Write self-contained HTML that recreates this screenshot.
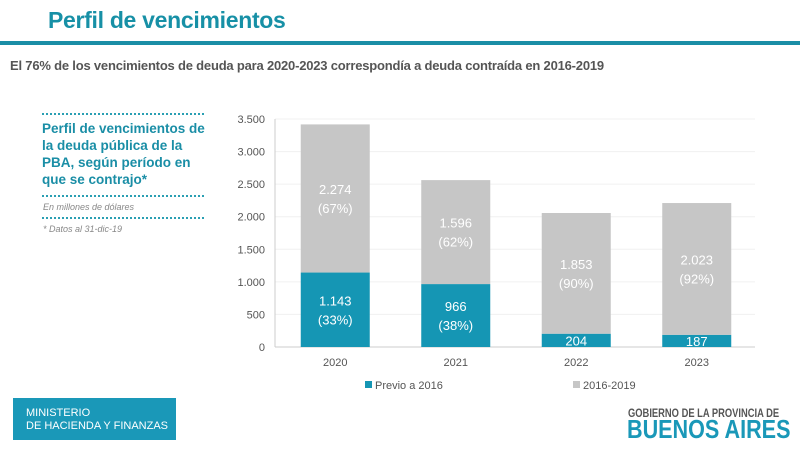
<!DOCTYPE html>
<html><head><meta charset="utf-8"><style>
body{margin:0;width:800px;height:450px;background:#fff;position:relative;overflow:hidden;font-family:"Liberation Sans",sans-serif}
.abs{position:absolute;white-space:nowrap}
</style></head><body>
<div class="abs" style="left:48px;top:7px;font-size:23px;font-weight:bold;color:#1790a6;letter-spacing:-0.3px">Perfil de vencimientos</div>
<div class="abs" style="left:0;top:41px;width:800px;height:4px;background:#1a8ea6"></div>
<div class="abs" style="left:10px;top:58px;font-size:13px;font-weight:bold;color:#555;letter-spacing:-0.2px">El 76% de los vencimientos de deuda para 2020-2023 correspondía a deuda contraída en 2016-2019</div>
<div class="abs" style="left:42px;top:113px;width:162px;border-top:2px dotted #2a9fb3"></div>
<div class="abs" style="left:42px;top:120px;width:170px;white-space:normal;font-size:13.5px;line-height:17px;font-weight:bold;color:#1a8ea6">Perfil de vencimientos de la deuda pública de la PBA, según período en que se contrajo*</div>
<div class="abs" style="left:42px;top:195px;width:162px;border-top:2px dotted #2a9fb3"></div>
<div class="abs" style="left:43px;top:202px;font-size:9px;font-style:italic;color:#888">En millones de dólares</div>
<div class="abs" style="left:42px;top:217px;width:162px;border-top:2px dotted #2a9fb3"></div>
<div class="abs" style="left:43px;top:224px;font-size:9px;font-style:italic;color:#888">* Datos al 31-dic-19</div>
<svg class="abs" style="left:0;top:0" width="800" height="450" id="chart"></svg>
<div class="abs" style="left:13px;top:398px;width:163px;height:42px;background:#1a98b8;color:#fff;font-size:11px;line-height:13px;padding:9px 0 0 13px;box-sizing:border-box">MINISTERIO<br>DE HACIENDA Y FINANZAS</div>
<div class="abs" style="left:628px;top:406px;font-size:12px;font-weight:bold;color:#555;transform:scaleX(0.78);transform-origin:left top">GOBIERNO DE LA PROVINCIA DE</div>
<div class="abs" style="left:627px;top:416px;font-size:26px;line-height:26px;font-weight:bold;color:#1a98b8;transform:scaleX(0.83);transform-origin:left top">BUENOS AIRES</div>
<script>
const categories=["2020","2021","2022","2023"];
const previo=[1143,966,204,187];
const nuevo=[2274,1596,1853,2023];
const previoLabels=["1.143\n(33%)","966\n(38%)","204","187"];
const nuevoLabels=["2.274\n(67%)","1.596\n(62%)","1.853\n(90%)","2.023\n(92%)"];
const ticks=[0,500,1000,1500,2000,2500,3000,3500];
const tickLabels=["0","500","1.000","1.500","2.000","2.500","3.000","3.500"];
const svg=document.getElementById('chart');const NS='http://www.w3.org/2000/svg';
const y0=347,yTop=119,x0=275,bw=120.5,barW=69;
const y=v=>y0-(v/3500)*(y0-yTop);
const xc=i=>x0+bw*i+bw/2;
function el(t,a){const e=document.createElementNS(NS,t);for(const k in a)e.setAttribute(k,a[k]);svg.appendChild(e);return e;}
ticks.forEach((t,i)=>{
 const g=el('line',{x1:x0,x2:755,y1:y(t),y2:y(t),stroke:'#f0f0f0'});
 
 const l=el('text',{x:265,y:y(t)+4,'text-anchor':'end','font-size':11,fill:'#555','font-family':'Liberation Sans'});
 l.textContent=tickLabels[i];
 
});
const ax=el('line',{x1:x0,x2:x0,y1:yTop,y2:y0,stroke:'#ccc'});

const bx=el('line',{x1:x0,x2:755,y1:y0,y2:y0,stroke:'#ccc'});

function lbl(txt,cx,cy,name){
 const lines=txt.split('\n');
 lines.forEach((s,j)=>{const t=el('text',{x:cx,y:cy+(j-(lines.length-1)/2)*19+5,'text-anchor':'middle','font-size':13,fill:'#fff','font-family':'Liberation Sans'});t.textContent=s;
 });
}
categories.forEach((c,i)=>{
 const cx=xc(i);
 const r1=el('rect',{x:cx-barW/2,y:y(previo[i]),width:barW,height:y0-y(previo[i]),fill:'#1596b4'});
 
 const top=previo[i]+nuevo[i];
 const r2=el('rect',{x:cx-barW/2,y:y(top),width:barW,height:y(previo[i])-y(top),fill:'#c6c6c6'});
 
 lbl(previoLabels[i],cx,(y(previo[i])+y0)/2,'value-label-previo');
 lbl(nuevoLabels[i],cx,(y(top)+y(previo[i]))/2,'value-label-2016-2019');
 const t=el('text',{x:cx,y:366,'text-anchor':'middle','font-size':11,fill:'#555','font-family':'Liberation Sans'});t.textContent=c;
 
});
[[365,'#1596b4','Previo a 2016'],[573,'#c6c6c6','2016-2019']].forEach(([x,col,txt])=>{
 const s=el('rect',{x:x,y:381,width:7,height:7,fill:col});
 const t=el('text',{x:x+10,y:389,'font-size':11,fill:'#555','font-family':'Liberation Sans'});t.textContent=txt;
 
});
</script>
</body></html>
